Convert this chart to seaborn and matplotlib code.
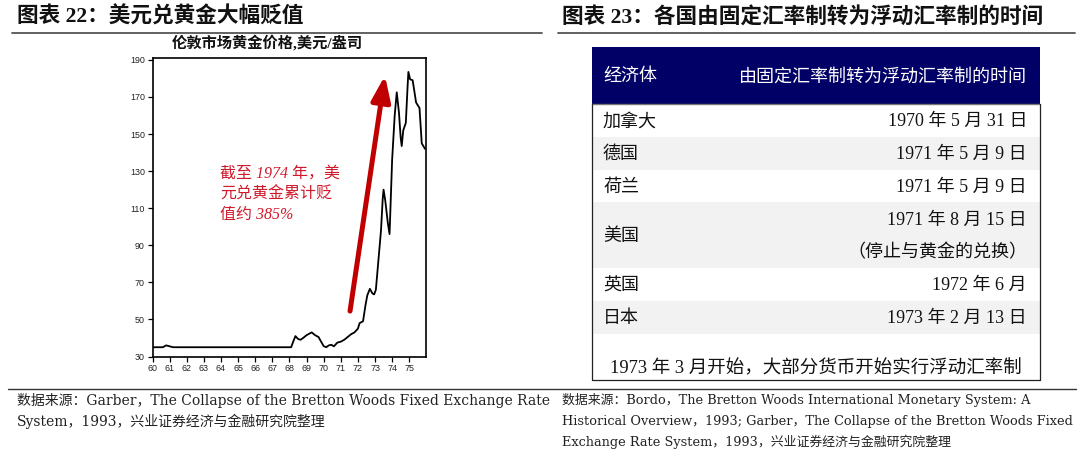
"""
Gold vs USD chart (London price) plus a table of float dates.
"""

import matplotlib

matplotlib.use("Agg")
import matplotlib.pyplot as plt
from matplotlib.patches import Rectangle
import seaborn as sns

# London gold price, USD / oz (year = 19xx)
years = [
    60.0, 60.6, 60.8, 61.0, 61.2, 68.1, 68.2, 68.35, 68.5, 68.65,
    68.8, 69.0, 69.3, 69.5, 69.7, 69.85, 70.0, 70.15, 70.3, 70.45,
    70.6, 70.8, 71.0, 71.2, 71.4, 71.6, 71.8, 72.0, 72.1, 72.3,
    72.45, 72.55, 72.7, 72.85, 72.95, 73.05, 73.2, 73.35, 73.45, 73.5,
    73.6, 73.75, 73.85, 74.0, 74.15, 74.27, 74.4, 74.5, 74.56, 74.65,
    74.8, 74.9, 74.95, 75.05, 75.2, 75.4, 75.6, 75.73, 75.92,
]
gold_price = [
    35.0, 35.0, 36.0, 35.5, 35.0, 35.0, 37.5, 41.0, 39.5, 39.0,
    40.0, 41.5, 43.0, 41.5, 40.5, 38.0, 35.6, 35.0, 36.0, 36.3,
    35.5, 37.5, 38.0, 39.0, 40.5, 42.0, 43.0, 45.0, 48.0, 49.0,
    58.0, 63.0, 66.5, 64.0, 63.5, 66.0, 82.0, 98.0, 115.0, 120.0,
    114.0, 102.0, 96.0, 136.0, 160.0, 172.5, 161.5, 148.0, 143.5, 152.0,
    156.0, 175.0, 183.5, 179.5, 179.0, 167.0, 164.0, 145.0, 142.0,
]
x_ticks = list(range(60, 76))
y_ticks = list(range(30, 191, 20))

note_text = "截至 1974 年，美\n元兑黄金累计贬\n值约 385%"
note_pos = (63.95, 132.8)
arrow_start = (71.54, 54.5)
arrow_end = (73.58, 181.5)

# Table: economies and the date each moved to a floating rate
table_header = ["经济体", "由固定汇率制转为浮动汇率制的时间"]
economies = ["加拿大", "德国", "荷兰", "美国", "英国", "日本"]
float_dates = [
    "1970 年 5 月 31 日",
    "1971 年 5 月 9 日",
    "1971 年 5 月 9 日",
    "1971 年 8 月 15 日\n（停止与黄金的兑换）",
    "1972 年 6 月",
    "1973 年 2 月 13 日",
]
table_note = "1973 年 3 月开始，大部分货币开始实行浮动汇率制"

left_title = "图表 22：美元兑黄金大幅贬值"
right_title = "图表 23：各国由固定汇率制转为浮动汇率制的时间"
chart_title = "伦敦市场黄金价格,美元/盎司"
left_source = [
    "数据来源：Garber，The Collapse of the Bretton Woods Fixed Exchange Rate",
    "System，1993，兴业证券经济与金融研究院整理",
]
right_source = [
    "数据来源：Bordo，The Bretton Woods International Monetary System: A",
    "Historical Overview，1993; Garber，The Collapse of the Bretton Woods Fixed",
    "Exchange Rate System，1993，兴业证券经济与金融研究院整理",
]

sns.set_theme(style="white")
SERIF = ["Liberation Serif", "Noto Sans CJK SC"]
plt.rcParams["font.family"] = SERIF
plt.rcParams["axes.unicode_minus"] = False

W, H = 1080, 465
fig = plt.figure(figsize=(W / 100, H / 100), dpi=100)
fig.patch.set_facecolor("white")

# overlay in pixel coords for headers, footers and the table
ov = fig.add_axes([0, 0, 1, 1], zorder=0)
ov.set_xlim(0, W)
ov.set_ylim(H, 0)
ov.axis("off")

# --- left chart ---
ax_l, ax_r, ax_t, ax_b = 152.5, 425.5, 58.0, 356.5
ax = fig.add_axes(
    [ax_l / W, 1 - ax_b / H, (ax_r - ax_l) / W, (ax_b - ax_t) / H], zorder=2
)
ax.set_facecolor("white")
sns.lineplot(x=years, y=gold_price, color="black", lw=1.3, ax=ax)
ax.set_xlim(60, 75.95)
ax.set_ylim(30, 191)
ax.set_xticks(x_ticks)
ax.set_xticklabels([str(t) for t in x_ticks])
ax.set_yticks(y_ticks)
ax.tick_params(
    axis="both", direction="out", length=3.5, width=0.9, labelsize=6.4,
    pad=2, colors="black", bottom=True, left=True,
)
for lab in ax.get_xticklabels() + ax.get_yticklabels():
    lab.set_family(["Liberation Sans", "DejaVu Sans"])
    lab.set_color("#222222")
for sp in ax.spines.values():
    sp.set_visible(True)
    sp.set_color("black")
    sp.set_linewidth(1.2)
ax.set_xlabel("")
ax.set_ylabel("")

ax.annotate(
    "", xy=arrow_end, xytext=arrow_start,
    arrowprops=dict(arrowstyle="-|>,head_width=0.32,head_length=0.85",
                    color="#C00000", lw=3.6, mutation_scale=18,
                    shrinkA=0, shrinkB=0),
)
ax.text(
    note_pos[0], note_pos[1], note_text, color="#D0192B", fontsize=11.5,
    style="italic", ha="left", va="top", linespacing=1.38,
    family=["Liberation Serif", "Noto Sans CJK SC"],
)

ov.text(267, 43, chart_title, ha="center", va="center", fontsize=11,
        fontweight="bold", family=SERIF, color="#111111")

# --- headers ---
ov.text(17, 17, left_title, ha="left", va="center", fontsize=15.6,
        fontweight="bold", family=SERIF, color="#111111")
ov.text(562, 17, right_title, ha="left", va="center", fontsize=15.6,
        fontweight="bold", family=SERIF, color="#111111")
ov.plot([12, 542], [33, 33], color="#555555", lw=1.3)
ov.plot([558, 1075], [33, 33], color="#555555", lw=1.3)

# --- footers ---
ov.plot([8, 1076], [388.5, 388.5], color="#333333", lw=1.0)
foot_family = ["DejaVu Serif", "Noto Sans CJK SC"]
for i, line in enumerate(left_source):
    ov.text(17, 400 + 21 * i, line, ha="left", va="center", fontsize=10,
            family=foot_family, color="#222222")
for i, line in enumerate(right_source):
    ov.text(562, 400 + 21 * i, line, ha="left", va="center", fontsize=9.3,
            family=foot_family, color="#222222")

# --- table ---
t_left, t_right, t_top, t_bottom = 591.5, 1040, 47, 379.5
head_bottom = 104
row_unit = 32.8
name_x, date_x = 603, 1027

ov.add_patch(Rectangle((t_left, t_top), t_right - t_left, head_bottom - t_top,
                       facecolor="#000066", edgecolor="none"))
ov.text(name_x, 77, table_header[0], color="white", fontsize=13,
        ha="left", va="center", family=SERIF)
ov.text(date_x, 77, table_header[1], color="white", fontsize=13,
        ha="right", va="center", family=SERIF)

y = head_bottom
for i, (name, date) in enumerate(zip(economies, float_dates)):
    lines = date.split("\n")
    h = row_unit * len(lines)
    if i % 2 == 1:
        ov.add_patch(Rectangle((t_left, y), t_right - t_left, h,
                               facecolor="#F2F2F2", edgecolor="none"))
    ov.text(name_x, y + h / 2 + 1.5, name, fontsize=13, ha="left",
            va="center", family=SERIF, color="#111111")
    for j, line in enumerate(lines):
        ov.text(date_x, y + row_unit * (j + 0.5) + 1.5, line, fontsize=13,
                ha="right", va="center", family=SERIF, color="#111111")
    y += h

ov.text((t_left + t_right) / 2, 369, table_note, fontsize=13.3,
        ha="center", va="center", family=SERIF, color="#111111")

ov.plot([t_left, t_right], [head_bottom, head_bottom], color="#777777", lw=1.0)
ov.plot([t_left, t_left, t_right, t_right],
        [head_bottom, t_bottom, t_bottom, head_bottom], color="#222222", lw=0.9)

fig.savefig("out.png", dpi=100, facecolor="white")
